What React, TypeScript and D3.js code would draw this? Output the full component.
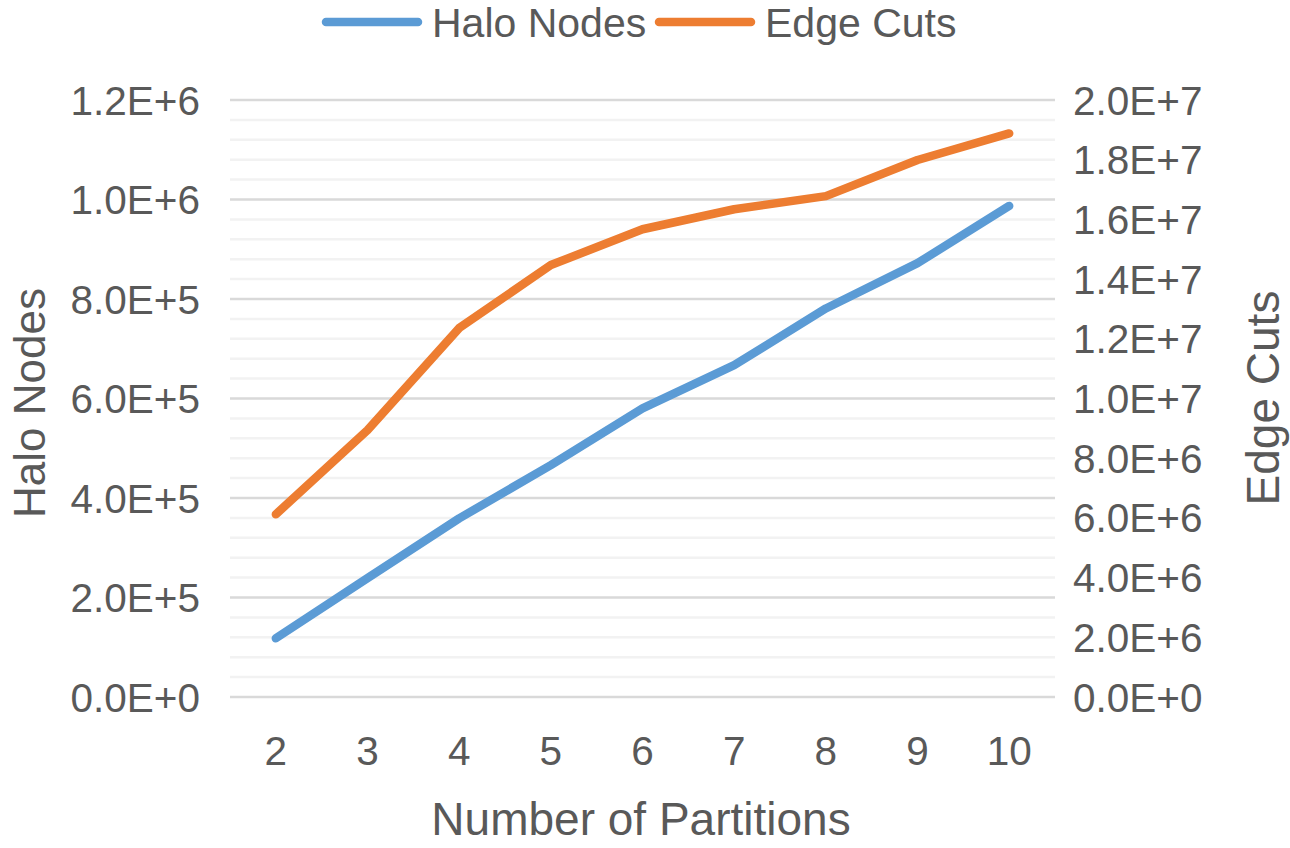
import React from "react";
import * as d3 from "d3";

const partitions = [2, 3, 4, 5, 6, 7, 8, 9, 10];
const haloNodes = [118000, 239000, 359000, 466000, 580000, 667000, 781000, 872000, 987000];
const edgeCuts = [6.12e6, 8.94e6, 12.36e6, 14.47e6, 15.67e6, 16.34e6, 16.78e6, 17.99e6, 18.88e6];
const leftTicks = [0, 2e5, 4e5, 6e5, 8e5, 1e6, 1.2e6];
const rightTicks = [0, 2e6, 4e6, 6e6, 8e6, 1e7, 1.2e7, 1.4e7, 1.6e7, 1.8e7, 2e7];
const minorStep = 40000;

const W = 1290, H = 848;
const M = { left: 230, right: 1055, top: 100, bottom: 697 };
const BLUE = "#5B9BD5", ORANGE = "#ED7D31", TEXT = "#595959";
const FONT = "'Liberation Sans', Arial, sans-serif";

function fmt(v: number) {
  if (v === 0) return "0.0E+0";
  const e = Math.floor(Math.log10(v));
  const m = v / Math.pow(10, e);
  return `${m.toFixed(1)}E+${e}`;
}

export default function App() {
  const x = d3.scalePoint<number>().domain(partitions).range([M.left, M.right]).padding(0.5);
  const yL = d3.scaleLinear().domain([0, 1.2e6]).range([M.bottom, M.top]);
  const yR = d3.scaleLinear().domain([0, 2e7]).range([M.bottom, M.top]);
  const minor = d3.range(0, 1.2e6 + 1, minorStep);
  const lineL = d3.line<number>().x((_, i) => x(partitions[i])!).y(d => yL(d));
  const lineR = d3.line<number>().x((_, i) => x(partitions[i])!).y(d => yR(d));

  return (
    <svg width={W} height={H} style={{ position: "absolute", left: 0, top: 0, background: "#fff" }} fontFamily={FONT}>
      {minor.map((v, i) => {
        const major = i % 5 === 0;
        return (
          <line key={i} x1={M.left} x2={M.right} y1={yL(v)} y2={yL(v)}
            stroke={major ? "#D9D9D9" : "#F2F2F2"} strokeWidth={2.5} />
        );
      })}
      {leftTicks.map(t => (
        <text key={t} x={200} y={yL(t)} dy="0.36em" textAnchor="end" fontSize={40.5} fill={TEXT}>{fmt(t)}</text>
      ))}
      {rightTicks.map(t => (
        <text key={t} x={1073} y={yR(t)} dy="0.36em" textAnchor="start" fontSize={40.5} fill={TEXT}>{fmt(t)}</text>
      ))}
      {partitions.map(p => (
        <text key={p} x={x(p)} y={750} dy="0.36em" textAnchor="middle" fontSize={40.5} fill={TEXT}>{p}</text>
      ))}
      <path d={lineR(edgeCuts)!} fill="none" stroke={ORANGE} strokeWidth={8.5} strokeLinecap="round" strokeLinejoin="round" />
      <path d={lineL(haloNodes)!} fill="none" stroke={BLUE} strokeWidth={8.5} strokeLinecap="round" strokeLinejoin="round" />
      <text x={641} y={818} dy="0.36em" textAnchor="middle" fontSize={46} fill={TEXT}>Number of Partitions</text>
      <text transform={`translate(29,403) rotate(-90)`} dy="0.36em" textAnchor="middle" fontSize={44} fill={TEXT}>Halo Nodes</text>
      <text transform={`translate(1262,398) rotate(-90)`} dy="0.36em" textAnchor="middle" fontSize={46} fill={TEXT}>Edge Cuts</text>
      <line x1={326} x2={418} y1={22} y2={22} stroke={BLUE} strokeWidth={8.5} strokeLinecap="round" />
      <text x={432} y={22} dy="0.36em" fontSize={41} fill={TEXT}>Halo Nodes</text>
      <line x1={659} x2={751} y1={22} y2={22} stroke={ORANGE} strokeWidth={8.5} strokeLinecap="round" />
      <text x={765} y={22} dy="0.36em" fontSize={41} fill={TEXT}>Edge Cuts</text>
    </svg>
  );
}
